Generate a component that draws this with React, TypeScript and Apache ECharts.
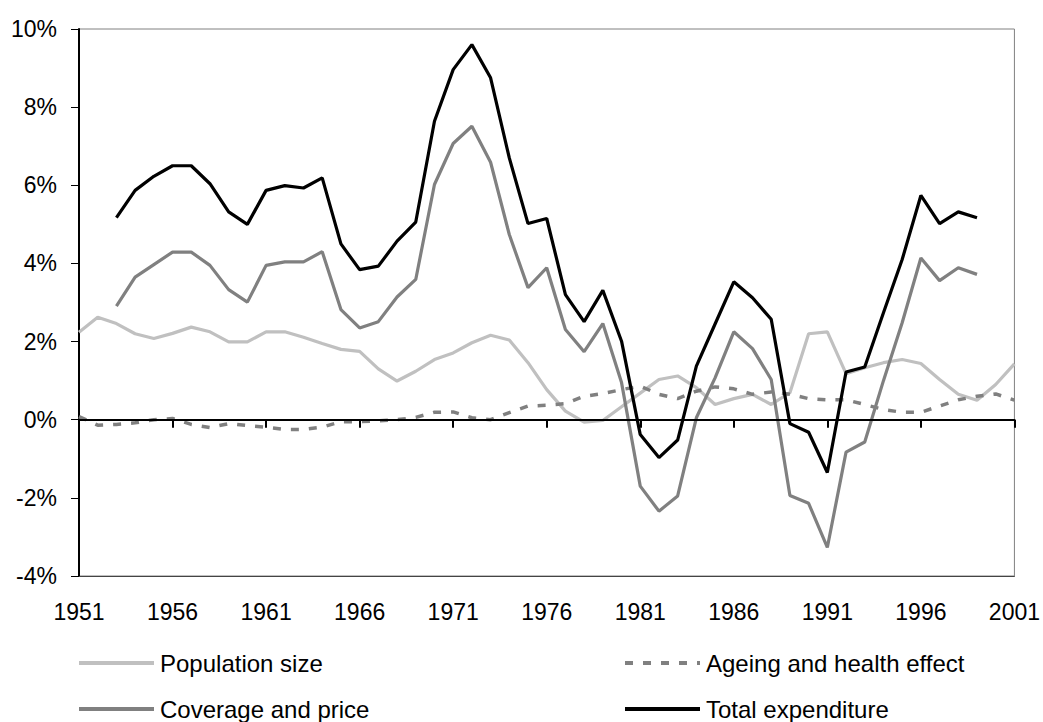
import React, { useEffect, useRef } from "react";
import * as echarts from "echarts";

const years = [
  "1951", "1952", "1953", "1954", "1955", "1956", "1957", "1958", "1959", "1960",
  "1961", "1962", "1963", "1964", "1965", "1966", "1967", "1968", "1969", "1970",
  "1971", "1972", "1973", "1974", "1975", "1976", "1977", "1978", "1979", "1980",
  "1981", "1982", "1983", "1984", "1985", "1986", "1987", "1988", "1989", "1990",
  "1991", "1992", "1993", "1994", "1995", "1996", "1997", "1998", "1999", "2000",
  "2001",
];

const populationSize = [
  2.24, 2.62, 2.46, 2.2, 2.08, 2.21, 2.37, 2.25, 1.99, 1.99,
  2.25, 2.25, 2.11, 1.95, 1.8, 1.75, 1.3, 0.99, 1.24, 1.54,
  1.71, 1.97, 2.16, 2.04, 1.46, 0.77, 0.22, -0.06, -0.02, 0.33,
  0.68, 1.03, 1.12, 0.82, 0.39, 0.54, 0.65, 0.39, 0.69, 2.2,
  2.25, 1.18, 1.33, 1.46, 1.54, 1.44, 1.03, 0.65, 0.5, 0.9,
  1.43,
];

const ageingHealth = [
  0.08, -0.14, -0.12, -0.08, 0.0, 0.03, -0.12, -0.2, -0.1, -0.15,
  -0.19, -0.25, -0.25, -0.19, -0.05, -0.05, -0.03, 0.0, 0.06, 0.19,
  0.2, 0.05, 0.0, 0.18, 0.35, 0.37, 0.41, 0.6, 0.67, 0.77,
  0.86, 0.65, 0.54, 0.73, 0.84, 0.79, 0.65, 0.71, 0.65, 0.54,
  0.51, 0.51, 0.39, 0.26, 0.19, 0.19, 0.35, 0.51, 0.6, 0.66,
  0.5,
];

const coveragePrice = [
  null, null, 2.91, 3.65, 3.97, 4.29, 4.29, 3.95, 3.33, 3.01,
  3.95, 4.04, 4.04, 4.3, 2.82, 2.35, 2.51, 3.14, 3.59, 6.02,
  7.07, 7.51, 6.59, 4.74, 3.38, 3.89, 2.31, 1.74, 2.46, 0.95,
  -1.7, -2.34, -1.95, 0.05, 1.07, 2.25, 1.82, 1.03, -1.94, -2.14,
  -3.27, -0.83, -0.57, 1.0, 2.48, 4.14, 3.56, 3.89, 3.72, null,
  null,
];

const totalExpenditure = [
  null, null, 5.17, 5.87, 6.23, 6.5, 6.5, 6.04, 5.32, 5.0,
  5.87, 5.99, 5.93, 6.19, 4.5, 3.84, 3.93, 4.57, 5.06, 7.64,
  8.96, 9.6, 8.75, 6.7, 5.02, 5.15, 3.2, 2.51, 3.31, 2.01,
  -0.38, -0.97, -0.52, 1.37, 2.45, 3.53, 3.12, 2.57, -0.1, -0.32,
  -1.35, 1.22, 1.35, 2.74, 4.1, 5.74, 5.02, 5.32, 5.17, null,
  null,
];

const seriesNames = [
  "Population size",
  "Ageing and health effect",
  "Coverage and price",
  "Total expenditure",
];

const FONT = "'Liberation Sans', Arial, sans-serif";

export default function App() {
  const ref = useRef<HTMLDivElement>(null);

  useEffect(() => {
    if (!ref.current) return;
    const chart = echarts.init(ref.current, null, { renderer: "svg" });

    const legendBase = {
      orient: "horizontal",
      padding: 0,
      itemWidth: 75,
      itemHeight: 12,
      itemGap: 0,
      selectedMode: false,
      itemStyle: { opacity: 0, borderWidth: 0 },
      lineStyle: { width: 4 },
      textStyle: { fontFamily: FONT, fontSize: 24, color: "#000", padding: [0, 0, 0, 1] },
    };

    chart.setOption({
      animation: false,
      backgroundColor: "#fff",
      textStyle: { fontFamily: FONT },
      grid: {
        left: 79,
        right: 26,
        top: 29,
        bottom: 146,
        show: true,
        borderColor: "#808080",
        borderWidth: 1,
      },
      legend: [
        { ...legendBase, data: [seriesNames[0]], left: 77, top: 651 },
        { ...legendBase, data: [seriesNames[1]], left: 623, top: 651 },
        { ...legendBase, data: [seriesNames[2]], left: 77, top: 697 },
        { ...legendBase, data: [seriesNames[3]], left: 623, top: 697 },
      ],
      xAxis: [
        {
          type: "category",
          data: years,
          boundaryGap: false,
          position: "bottom",
          axisLine: { show: true, onZero: true, lineStyle: { color: "#000", width: 2 } },
          axisTick: {
            show: true,
            interval: (i: number) => i % 5 === 0,
            length: 8,
            lineStyle: { color: "#000", width: 2 },
          },
          axisLabel: { show: false },
          splitLine: { show: false },
          z: 3,
        },
        {
          type: "category",
          data: years,
          boundaryGap: false,
          position: "bottom",
          axisLine: { show: true, onZero: false, lineStyle: { color: "#444", width: 1 } },
          axisTick: { show: false },
          axisLabel: {
            show: true,
            interval: (i: number) => i % 5 === 0,
            margin: 24,
            fontSize: 23,
            color: "#000",
            fontFamily: FONT,
          },
          splitLine: { show: false },
        },
      ],
      yAxis: {
        type: "value",
        min: -4,
        max: 10,
        interval: 2,
        axisLine: { show: true, lineStyle: { color: "#000", width: 2 } },
        axisTick: { show: true, length: 8, lineStyle: { color: "#000", width: 1 } },
        axisLabel: {
          formatter: (v: number) => `${v}%`,
          margin: 22,
          fontSize: 23,
          color: "#000",
          fontFamily: FONT,
        },
        splitLine: { show: false },
      },
      series: [
        {
          name: seriesNames[0],
          type: "line",
          xAxisIndex: 0,
          data: populationSize,
          symbol: "none",
          lineStyle: { color: "#c0c0c0", width: 3.2 },
          itemStyle: { color: "#c0c0c0" },
          z: 2,
        },
        {
          name: seriesNames[1],
          type: "line",
          xAxisIndex: 0,
          data: ageingHealth,
          symbol: "none",
          lineStyle: { color: "#808080", width: 3.5, type: [8, 10], cap: "butt" },
          itemStyle: { color: "#808080" },
          z: 2,
        },
        {
          name: seriesNames[2],
          type: "line",
          xAxisIndex: 0,
          data: coveragePrice,
          symbol: "none",
          lineStyle: { color: "#808080", width: 3.2 },
          itemStyle: { color: "#808080" },
          z: 2,
        },
        {
          name: seriesNames[3],
          type: "line",
          xAxisIndex: 0,
          data: totalExpenditure,
          symbol: "none",
          lineStyle: { color: "#000", width: 3.2 },
          itemStyle: { color: "#000" },
          z: 2,
        },
      ],
    });

    return () => chart.dispose();
  }, []);

  return (
    <div
      ref={ref}
      style={{ position: "fixed", left: 0, top: 0, width: 1043, height: 722, background: "#fff" }}
    />
  );
}
